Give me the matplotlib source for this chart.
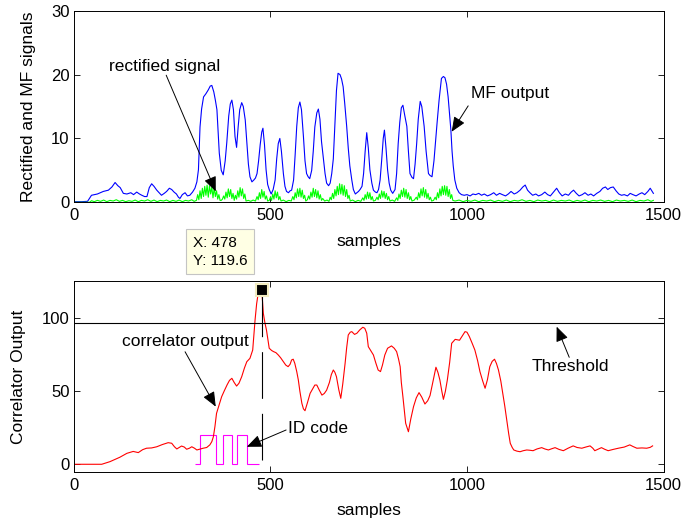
import matplotlib
matplotlib.use("Agg")
import matplotlib.pyplot as plt

plt.rcParams['font.family'] = ['Liberation Sans', 'DejaVu Sans']

# ---------------- matched-filter output (blue) ----------------
mf_x = [0, 20, 35, 45, 60, 75, 88, 97, 105, 112, 118, 126, 135, 145, 152, 160, 167, 173, 180, 186,
        192, 198, 204, 211, 217, 223, 230, 236, 243, 249, 255, 261, 266, 270, 276, 283, 289, 295, 302, 308,
        313, 317, 321, 325, 330, 336, 342, 347, 351, 356, 360, 364, 367, 370, 375, 380, 385, 389, 394, 398,
        402, 406, 410, 414, 418, 422, 427, 431, 436, 440, 444, 448, 453, 458, 462, 466, 470, 474, 478, 481,
        485, 489, 493, 497, 502, 507, 512, 516, 520, 524, 528, 533, 537, 541, 546, 550, 554, 559, 563, 567,
        571, 575, 579, 584, 588, 592, 596, 600, 605, 609, 613, 618, 622, 626, 630, 635, 639, 643, 648, 652,
        656, 660, 664, 668, 672, 677, 681, 685, 689, 694, 698, 702, 707, 711, 716, 720, 724, 728, 733, 737,
        741, 745, 749, 753, 758, 762, 767, 771, 775, 779, 783, 787, 790, 794, 798, 802, 806, 811, 817, 821,
        825, 829, 833, 837, 842, 847, 851, 855, 860, 864, 868, 872, 876, 881, 885, 891, 896, 902, 906, 911,
        916, 920, 924, 929, 935, 940, 944, 948, 952, 956, 959, 962, 965, 969, 974, 980, 986, 993, 1000, 1008,
        1015, 1022, 1030, 1037, 1044, 1052, 1060, 1068, 1075, 1083, 1090, 1098, 1105, 1112, 1120, 1127, 1135,
        1142, 1148, 1154, 1160, 1167, 1175, 1182, 1190, 1198, 1205, 1212, 1220, 1228, 1235, 1242, 1250, 1258,
        1265, 1271, 1278, 1285, 1293, 1300, 1308, 1315, 1322, 1330, 1338, 1345, 1352, 1358, 1365, 1372, 1379,
        1386, 1393, 1400, 1408, 1415, 1422, 1430, 1438, 1445, 1452, 1460, 1466, 1470, 1474]
mf_y = [0.1, 0.1, 0.15, 1.1, 1.3, 1.7, 1.9, 2.4, 3.1, 2.6, 2.3, 1.4, 1.3, 1.5, 1.2, 1.6, 1.3, 1.1, 0.9, 0.9,
        2.3, 2.9, 2.5, 1.9, 1.5, 1.1, 1.4, 1.7, 2.2, 2.0, 1.6, 1.3, 0.8, 0.6, 1.2, 1.5, 1.0, 1.1, 1.6, 2.2,
        3.2, 5.1, 11.8, 14.6, 16.5, 17.0, 17.6, 18.2, 18.3, 17.3, 16.0, 14.5, 11.0, 7.7, 5.0, 4.3, 6.5, 9.3, 13.5, 15.4,
        16.0, 14.5, 10.3, 8.6, 11.8, 14.5, 15.6, 15.0, 12.9, 9.5, 6.0, 4.0, 3.2, 3.5, 3.8, 4.5, 6.5, 9.0, 11.0, 11.6,
        9.0, 5.1, 2.8, 2.0, 1.3, 2.0, 3.5, 6.8, 9.2, 10.0, 8.0, 4.5, 2.5, 1.7, 1.5, 1.8, 1.9, 3.5, 7.5, 11.9,
        14.8, 15.7, 14.5, 10.3, 6.5, 4.5, 4.0, 3.7, 5.0, 8.0, 11.8, 14.0, 14.6, 13.0, 9.5, 6.8, 4.5, 3.0, 2.6, 3.0,
        4.5, 6.8, 12.0, 17.5, 20.2, 20.0, 19.3, 18.1, 15.5, 11.9, 8.5, 5.7, 3.5, 2.0, 1.3, 1.5, 1.7, 2.0, 2.5, 4.5,
        8.0, 10.9, 8.5, 5.1, 3.0, 1.9, 1.6, 1.5, 2.0, 3.5, 6.6, 10.0, 11.3, 8.5, 5.1, 3.0, 1.9, 1.4, 2.0, 4.5,
        9.2, 12.5, 14.8, 15.2, 13.5, 11.9, 8.0, 4.5, 3.9, 3.7, 6.0, 9.2, 13.0, 15.8, 15.0, 11.9, 8.0, 4.5, 4.2, 4.0,
        6.5, 9.5, 12.5, 16.0, 19.4, 19.7, 19.5, 18.5, 16.5, 13.5, 11.3, 8.0, 5.7, 3.5, 2.2, 1.5, 1.2, 1.1, 1.2, 1.0,
        1.3, 1.2, 1.4, 1.1, 1.3, 1.0, 1.2, 1.5, 1.1, 1.4, 1.2, 1.0, 1.3, 1.7, 1.3, 1.5, 1.9,
        2.4, 2.7, 1.9, 1.5, 1.1, 1.3, 1.0, 1.2, 1.6, 1.2, 1.0, 1.6, 2.2, 1.5, 1.0, 1.3, 1.1,
        1.6, 1.9, 1.4, 1.0, 1.2, 1.5, 1.1, 1.3, 1.0, 1.4, 1.7, 2.2, 2.4, 2.0, 2.3, 2.4, 1.8,
        1.3, 1.1, 1.2, 1.0, 1.4, 1.2, 1.0, 1.3, 1.5, 1.2, 1.7, 2.2, 1.8, 1.4]

# ---------------- rectified signal (green) ----------------
rect_x = [0, 40, 45, 52, 60, 68, 76, 84, 92, 100, 108, 116, 124, 132, 140, 148, 156, 164, 172, 180,
          188, 196, 204, 212, 220, 228, 236, 244, 252, 260, 268, 276, 284, 292, 300, 306,
          312, 315, 318, 321, 324, 327, 330, 333, 336, 339, 342, 345, 348, 351, 354, 357, 360, 363, 366, 369, 372,
          375, 378,
          381, 384, 387, 390, 393, 396, 399, 402, 405, 408,
          411, 414, 417, 420, 423, 426, 429, 432, 435, 438,
          444, 450, 456, 462,
          466, 469, 472, 475, 478, 481, 484, 487, 490, 493,
          497,
          500, 503, 506, 509, 512, 515, 518, 521, 524, 527,
          533, 540, 547, 553,
          557, 560, 563, 566, 569, 572, 575, 578, 581, 584, 587, 590,
          594, 597, 600, 603, 606, 609, 612, 615, 618, 621, 624, 627, 630, 633,
          638, 644, 649,
          652, 655, 658, 661, 664, 667, 670, 673, 676, 679, 682, 685, 688, 691, 694, 697, 700, 703,
          709, 716, 723, 730,
          735, 738, 741, 744, 747, 750, 753, 756, 759, 762,
          767,
          771, 774, 777, 780, 783, 786, 789, 792, 795, 798, 801, 804,
          810, 816,
          821, 824, 827, 830, 833, 836, 839, 842, 845, 848, 851, 854, 857, 860,
          866,
          871, 874, 877, 880, 883, 886, 889, 892, 895, 898, 901, 904, 907, 910,
          915,
          919, 922, 925, 928, 931, 934, 937, 940, 943, 946, 949, 952, 955, 958, 961, 964,
          970, 980, 990, 1000, 1010, 1020, 1030, 1040, 1050, 1060, 1070, 1080, 1090, 1100, 1110, 1120,
          1130, 1140, 1150, 1160, 1170, 1180, 1190, 1200, 1210, 1220, 1230, 1240, 1250, 1260, 1270, 1280,
          1290, 1300, 1310, 1320, 1330, 1340, 1350, 1360, 1370, 1380, 1390, 1400, 1410, 1420, 1430, 1440,
          1450, 1460, 1468, 1474]
rect_y = [0.0, 0.0, 0.25, 0.1, 0.3, 0.15, 0.35, 0.1, 0.3, 0.2, 0.4, 0.15, 0.3, 0.1, 0.25, 0.15, 0.35, 0.1, 0.3, 0.2,
          0.4, 0.15, 0.35, 0.1, 0.3, 0.2, 0.35, 0.1, 0.3, 0.15, 0.35, 0.1, 0.3, 0.2, 0.4, 0.15,
          0.3, 1.2, 0.4, 1.8, 0.6, 2.2, 0.9, 2.5, 1.1, 2.7, 0.8, 2.6, 1.3, 2.4, 0.7, 2.3, 0.9, 1.8, 0.5, 1.2, 0.3,
          0.3, 0.5,
          1.0, 0.5, 1.6, 0.7, 2.1, 0.9, 2.0, 0.6, 1.4, 0.3,
          1.1, 0.5, 1.8, 0.8, 2.3, 1.0, 2.1, 0.6, 1.3, 0.2,
          0.3, 0.15, 0.35, 0.2,
          0.9, 0.4, 1.5, 0.6, 2.0, 0.8, 1.7, 0.5, 1.0, 0.2,
          0.3,
          0.8, 0.3, 1.3, 0.5, 1.8, 0.7, 1.6, 0.4, 0.9, 0.2,
          0.35, 0.1, 0.3, 0.2,
          0.9, 0.4, 1.5, 0.7, 2.1, 0.9, 2.2, 0.8, 1.9, 0.6, 1.1, 0.2,
          0.4, 1.0, 0.5, 1.6, 0.8, 2.2, 0.9, 2.0, 0.7, 1.8, 0.5, 1.2, 0.3, 0.6,
          0.2, 0.35, 0.15,
          0.8, 0.4, 1.4, 0.6, 2.0, 1.0, 2.5, 1.2, 2.9, 1.3, 2.8, 1.1, 2.6, 0.9, 2.0, 0.6, 1.1, 0.2,
          0.35, 0.1, 0.3, 0.15,
          0.7, 0.3, 1.2, 0.5, 1.6, 0.6, 1.5, 0.4, 0.9, 0.2,
          0.3,
          0.8, 0.4, 1.3, 0.6, 1.8, 0.8, 1.7, 0.6, 1.4, 0.4, 0.9, 0.2,
          0.35, 0.15,
          0.7, 0.3, 1.3, 0.6, 1.9, 0.9, 2.2, 0.8, 2.0, 0.6, 1.5, 0.4, 0.9, 0.2,
          0.35,
          0.8, 0.4, 1.5, 0.7, 2.1, 1.0, 2.3, 0.8, 2.0, 0.6, 1.4, 0.4, 0.8, 0.2,
          0.3,
          0.8, 0.4, 1.5, 0.7, 2.1, 1.0, 2.5, 1.2, 2.6, 1.1, 2.5, 0.9, 2.0, 0.6, 1.2, 0.3,
          0.2, 0.35, 0.1, 0.3, 0.15, 0.35, 0.1, 0.3, 0.2, 0.35, 0.1, 0.3, 0.15, 0.35, 0.1, 0.3,
          0.2, 0.4, 0.15, 0.3, 0.1, 0.35, 0.2, 0.3, 0.1, 0.35, 0.15, 0.3, 0.2, 0.35, 0.1, 0.3,
          0.15, 0.35, 0.1, 0.3, 0.2, 0.35, 0.15, 0.3, 0.1, 0.35, 0.2, 0.3, 0.15, 0.35, 0.1, 0.3,
          0.2, 0.4, 0.15, 0.3]

# ---------------- correlator output (red) ----------------
corr_x = [0, 71, 92, 117, 135, 151, 164, 175, 185, 198, 211, 225, 240, 249, 256, 262, 268, 274, 281, 287,
          294, 300, 307, 313, 320, 329, 338, 346, 351, 355, 359, 363, 370, 376, 383, 390, 396, 402, 408, 414,
          420, 427, 434, 440, 448, 455, 461, 465, 469, 473, 478, 482, 486, 490, 497, 503, 508, 514, 520, 526,
          533, 539, 545, 550, 554, 558, 562, 567, 571, 575, 580, 584, 588, 594, 601, 608, 613, 618, 624, 631,
          637, 643, 650, 655, 660, 664, 668, 674, 679, 684, 690, 694, 698, 703, 707, 714, 720, 727, 735, 740,
          745, 749, 755, 762, 768, 774, 780, 785, 791, 798, 808, 815, 821, 826, 830, 833, 837, 844, 851, 857,
          864, 871, 878, 885, 893, 900, 906, 913, 921, 926, 931, 936, 940, 945, 950, 956, 961, 970, 981, 988,
          995, 1000, 1006, 1013, 1020, 1027, 1033, 1040, 1046, 1052, 1058, 1064, 1070, 1075, 1080, 1086, 1091,
          1096, 1101, 1106, 1110, 1115, 1119, 1127, 1135, 1143, 1152, 1160, 1168, 1178, 1190, 1198, 1207, 1215,
          1224, 1234, 1245, 1257, 1270, 1280, 1292, 1302, 1313, 1320, 1325, 1334, 1342, 1350, 1359, 1372, 1385,
          1400, 1414, 1422, 1432, 1445, 1457, 1466, 1472]
corr_y = [0.0, 0.0, 1.8, 4.8, 7.5, 8.8, 8.0, 10.0, 11.0, 11.2, 12.0, 13.5, 14.8, 14.4, 12.0, 10.5, 11.5, 12.5, 11.8, 10.3,
          11.0, 12.0, 11.0, 9.8, 10.3, 11.0, 11.5, 13.3, 15.5, 18.9, 26.0, 34.9, 41.0, 46.3, 50.5, 54.5, 57.5, 58.9, 56.0, 53.6,
          55.5, 60.0, 66.0, 70.3, 72.6, 78.3, 98.9, 110.0, 117.2, 119.0, 119.6, 103.5, 97.0, 92.0, 79.5, 78.0, 77.2, 76.5, 74.9, 73.0,
          70.3, 68.0, 66.9, 68.5, 71.5, 72.0, 69.2, 63.5, 57.8, 50.0, 41.8, 38.0, 36.7, 42.0, 48.6, 52.0, 54.3, 54.3, 51.0, 47.4,
          48.5, 50.8, 56.0, 61.5, 64.6, 63.0, 60.0, 51.0, 45.2, 55.0, 69.2, 80.0, 88.6, 90.5, 90.9, 89.0, 89.8, 92.0, 93.9, 93.2,
          89.8, 80.6, 78.0, 74.9, 69.5, 64.6, 63.5, 68.0, 74.9, 79.5, 81.1, 79.5, 77.2, 72.0, 66.9, 56.0, 46.3, 28.1, 22.3, 31.0,
          39.5, 45.5, 49.1, 46.0, 41.3, 43.5, 47.1, 56.0, 66.5, 63.0, 57.8, 50.0, 44.5, 50.0, 57.8, 70.0, 82.9, 85.6, 85.0, 88.0,
          90.9, 90.5, 87.5, 83.0, 78.3, 71.0, 63.4, 57.0, 52.1, 58.0, 66.9, 70.5, 72.0, 69.0, 64.6, 57.0, 48.6,
          40.0, 30.3, 21.0, 14.4, 11.5, 9.8, 9.0, 8.6, 9.3, 9.8, 9.6, 9.3, 10.5, 11.4, 10.5, 9.8, 10.6,
          11.4, 10.2, 9.3, 11.0, 12.6, 11.5, 11.0, 11.8, 12.6, 11.0, 9.3, 10.4, 11.4, 10.3, 9.3, 10.2, 11.0,
          11.8, 13.3, 12.2, 11.0, 11.2, 11.0, 11.6, 12.6]

# ---------------- ID code (magenta) and detection ----------------
id_edges = [308, 321, 361, 380, 403, 414, 440, 472]
id_levels = [0, 20, 0, 20, 0, 20, 0]
threshold = 96.6
peak_x = 478
peak_y = corr_y[corr_x.index(peak_x)]

FS = 12.5
TICK_FS = 12

fig = plt.figure(figsize=(6.81, 5.18), dpi=100)
W, H = 681.0, 518.0
ax1 = fig.add_axes([73.8 / W, 1 - 202.3 / H, 589.8 / W, 191.6 / H])
ax2 = fig.add_axes([73.8 / W, 1 - 472.3 / H, 589.8 / W, 191.6 / H])

for ax in (ax1, ax2):
    ax.set_xlim(0, 1500)
    ax.set_xticks([0, 500, 1000, 1500])
    ax.tick_params(direction='in', top=True, right=True, length=4, width=0.6,
                   labelsize=TICK_FS, colors='black')
    ax.tick_params(axis='x', pad=4)
    ax.tick_params(axis='y', pad=3)
    for s in ax.spines.values():
        s.set_linewidth(0.7)
    ax.set_xlabel('samples', fontsize=FS)

arrow_kw = dict(arrowstyle='-|>,head_length=0.9,head_width=0.38', color='black',
                lw=0.7, shrinkA=0, shrinkB=0, mutation_scale=10)

# ---- upper panel ----
ax1.plot(mf_x, mf_y, color=(0, 0, 1), lw=0.8)
ax1.plot(rect_x, rect_y, color=(0, 1, 0), lw=0.8)
ax1.set_ylim(0, 30)
ax1.set_yticks([0, 10, 20, 30])
ax1.set_ylabel('Rectified and MF signals', fontsize=FS)
ax1.yaxis.set_label_coords(-0.0648, 0.5)
ax1.xaxis.set_label_coords(0.5, -0.165)

ax1.text(231, 21.2, 'rectified signal', fontsize=FS, ha='center', va='center')
ax1.annotate('', xy=(361, 1.7), xytext=(235, 19.9), arrowprops=arrow_kw, annotation_clip=False)
ax1.text(1010, 17.0, 'MF output', fontsize=FS, ha='left', va='center')
ax1.annotate('', xy=(961, 11.05), xytext=(1003, 15.1), arrowprops=arrow_kw, annotation_clip=False)

# ---- lower panel ----
ax2.plot(corr_x, corr_y, color=(1, 0, 0), lw=0.8)
ax2.stairs(id_levels, id_edges, baseline=None, color=(1, 0, 1), lw=0.8)
ax2.axhline(threshold, color='black', lw=0.8)
ax2.plot([peak_x, peak_x], [peak_y, 0], color='black', lw=0.8, dashes=(42, 13.5))
ax2.plot([peak_x], [peak_y], marker='s', ms=8, mfc='black', mec='#f2ecc0', mew=1.5,
         clip_on=False, zorder=5)
ax2.set_ylim(-5.5, 125.8)
ax2.set_yticks([0, 50, 100])
ax2.set_ylabel('Correlator Output', fontsize=FS)
ax2.yaxis.set_label_coords(-0.081, 0.5)
ax2.xaxis.set_label_coords(0.5, -0.160)

# data cursor box for the detected peak
ax2.annotate(f'X: {peak_x}\nY: {peak_y}', xy=(peak_x, peak_y), xytext=(-10.5, 16.0),
             textcoords='offset points', ha='right', va='bottom', multialignment='left',
             fontsize=11, linespacing=1.3, annotation_clip=False,
             bbox=dict(boxstyle='square,pad=0.45', fc='#ffffe4', ec='#c4c4c4', lw=0.8))

ax2.text(283, 84.0, 'correlator output', fontsize=FS, ha='center', va='center')
ax2.annotate('', xy=(361, 39.5), xytext=(283, 77.1), arrowprops=arrow_kw)
ax2.text(545, 24.7, 'ID code', fontsize=FS, ha='left', va='center')
ax2.annotate('', xy=(440, 12.0), xytext=(540, 23.5), arrowprops=arrow_kw)
ax2.text(1165, 66.9, 'Threshold', fontsize=FS, ha='left', va='center')
ax2.annotate('', xy=(1228, 94.3), xytext=(1260, 73.3), arrowprops=arrow_kw)

fig.savefig('out.png', dpi=100)
